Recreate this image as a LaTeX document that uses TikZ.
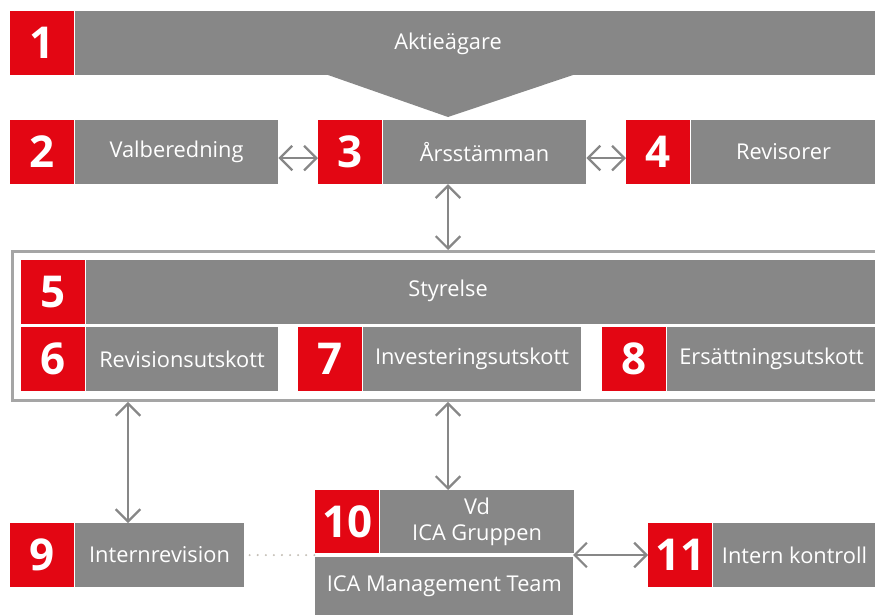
\documentclass[tikz,border=0pt]{standalone}
\usepackage{fontspec}
\setmainfont{Open Sans}
\usetikzlibrary{arrows.meta, positioning}
\definecolor{icared}{HTML}{E30613}
\definecolor{icagray}{HTML}{878787}
\definecolor{framegray}{HTML}{A5A5A5}
\definecolor{dotgray}{HTML}{C4BFB6}

\begin{document}
\begin{tikzpicture}[x=0.02cm, y=-0.02cm, font=\fontsize{12.4}{14}\selectfont]
    \tikzstyle{num} = [rectangle, fill=icared, text=white, anchor=north west, minimum width=1.28cm,
      minimum height=1.27cm, inner sep=0pt, font=\bfseries\fontsize{25}{25}\selectfont]
    \tikzstyle{part} = [rectangle, fill=icagray, text=white, minimum height=1.27cm, inner sep=0pt, align=center]
    \tikzstyle{lbl} = [text=white, inner sep=0pt]
    \tikzstyle{link} = [{Straight Barb[length=7pt,width=14pt]}-{Straight Barb[length=7pt,width=14pt]},
      line width=1.3pt, icagray]

    \useasboundingbox (0,0) rectangle (875,615);
    \coordinate (axis) at (448,0);
    \coordinate (raxis) at (128,0);

    % shareholders
    \node (n1) [num] at (10,11) {1};
    \node (aktie) [part, minimum width=16.02cm, right=0pt of n1] {};
    \node [lbl] at (448,44) {Aktieägare};
    \fill [icagray] (328,75) -- (573,75) -- (448,117) -- cycle;

    % meeting level
    \node (n2) [num] at (10,120) {2};
    \node (valb) [part, minimum width=4.06cm, right=0pt of n2] {Valberedning};
    \node (n3) [num] at (318,120) {3};
    \node (stamma) [part, minimum width=4.06cm, right=0pt of n3] {Årsstämman};
    \node (n4) [num] at (626,120) {4};
    \node (revisor) [part, minimum width=3.7cm, right=0pt of n4] {Revisorer};

    \draw [link] ([yshift=-3.4pt]valb.east) -- ([yshift=-3.4pt]n3.west);
    \draw [link] ([yshift=-3.4pt]stamma.east) -- ([yshift=-3.4pt]n4.west);

    % board and committees
    \node (board) [draw=framegray, line width=1.6pt, anchor=north west, minimum width=17.5cm,
      minimum height=2.98cm, inner sep=0pt] at (11,250) {};
    \node (n5) [num] at (21,260) {5};
    \node (styr) [part, minimum width=15.8cm, right=0pt of n5] {};
    \node [lbl] at (448,291) {Styrelse};
    \node (n6) [num] at (21,327) {6};
    \node (revutsk) [part, minimum width=3.84cm, right=0pt of n6] {Revisionsutskott};
    \node (n7) [num] at (298,327) {7};
    \node (invutsk) [part, minimum width=4.36cm, right=0pt of n7] {Investeringsutskott};
    \node (n8) [num] at (602,327) {8};
    \node (ersutsk) [part, minimum width=4.18cm, right=0pt of n8] {Ersättningsutskott};

    \draw [link] (stamma.south -| axis) -- (board.north -| axis);

    % management
    \node (n9) [num] at (10,523) {9};
    \node (intrev) [part, minimum width=3.38cm, right=0pt of n9] {Internrevision};
    \node (n10) [num, minimum height=1.26cm] at (315,490) {10};
    \node (vd) [part, minimum width=3.88cm, minimum height=1.26cm, right=0pt of n10] {Vd\\[1pt]ICA Gruppen};
    \node (mt) [part, anchor=north west, minimum width=5.16cm, minimum height=1.16cm] at (315,557)
      {ICA Management Team};
    \node (n11) [num] at (648,523) {11};
    \node (ik) [part, minimum width=3.26cm, right=0pt of n11] {Intern kontroll};
    \coordinate (gap) at (573,555);

    \draw [link] (board.south -| raxis) -- (intrev.north -| raxis);
    \draw [link] (board.south -| axis) -- (vd.north -| axis);
    \draw [link] (gap) -- (gap -| n11.west);
    \draw [dotgray, line width=1.3pt, line cap=round, dash pattern=on 0pt off 4.6pt]
      ([xshift=3pt]intrev.east) -- (n10.west |- intrev.east);
\end{tikzpicture}
\end{document}
